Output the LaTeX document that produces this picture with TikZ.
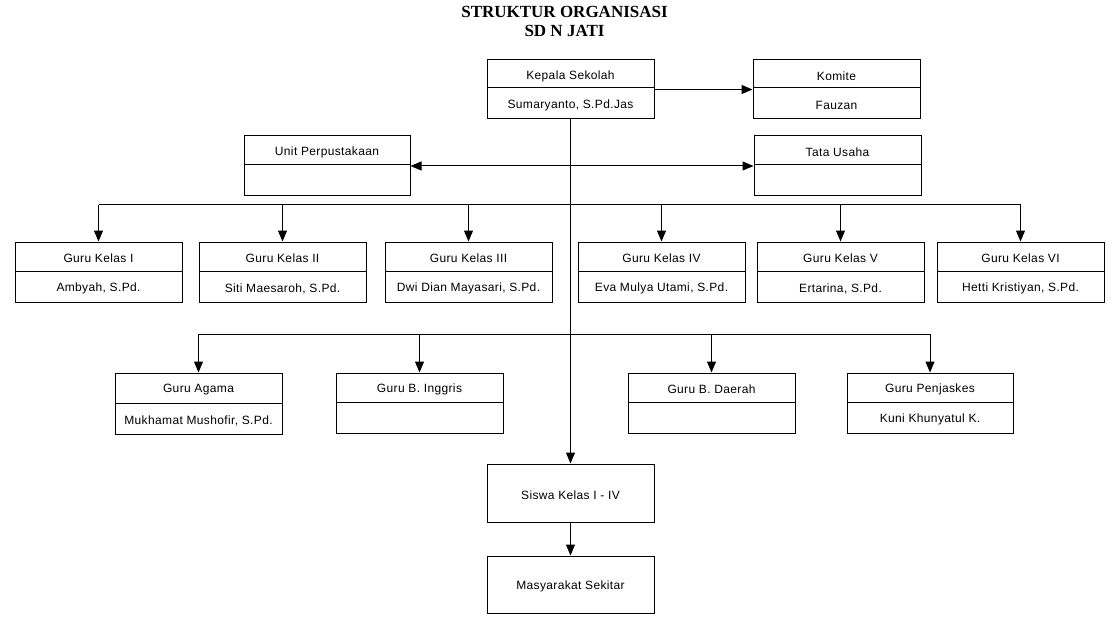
\documentclass[tikz,border=0pt]{standalone}
\usepackage{fontspec}
\setmainfont{Liberation Sans}[LetterSpace=3]
\newfontfamily\titlefont{Liberation Serif}
\usetikzlibrary{arrows.meta,fit}
\tikzset{
  box/.style={draw=black, line width=1pt, inner sep=0pt, fill=white},
  lbl/.style={inner sep=0pt, yshift=-2pt, font=\fontsize{12}{14}\selectfont, text=black},
  conn/.style={draw=black, line width=1pt},
  tip/.style={},
  arr/.style={conn, -{Triangle[length=11pt,width=9pt]}},
  arrboth/.style={conn, {Triangle[length=11pt,width=9pt]}-{Triangle[length=11pt,width=9pt]}},
}
% name, left, top, right, bottom, divider y, text1, text2
\newcommand\orgbox[8]{%
  \node[box, fit={(#2,#3)(#4,#5)}] (#1) {};
  \draw[line width=1pt] (#2,#6) -- (#4,#6);
  \node[lbl] (#1t) at ({(#2+#4)/2},{(#3+#6)/2}) {#7};
  \node[lbl] (#1b) at ({(#2+#4)/2},{(#6+#5)/2}) {#8};
}
\newcommand\plainbox[6]{%
  \node[box, fit={(#2,#3)(#4,#5)}] (#1) {};
  \node[lbl] (#1t) at (#1.center) {#6};
}
\begin{document}
\begin{tikzpicture}[x=1pt,y=-1pt]
\useasboundingbox[fill=white] (0,0) rectangle (1120,623);
\node[inner sep=0pt, font=\titlefont\bfseries\fontsize{17}{19}\selectfont, align=center] (title) at (564.5,21) {STRUKTUR ORGANISASI\\SD N JATI};

\orgbox{kep}{487}{60}{654}{119}{88}{Kepala Sekolah}{Sumaryanto, S.Pd.Jas}
\orgbox{kom}{753}{60}{920}{119}{88}{Komite}{Fauzan}
\orgbox{unit}{244}{136}{410}{196}{165}{Unit Perpustakaan}{}
\orgbox{tata}{754}{136}{921}{196}{165}{Tata Usaha}{}

\orgbox{g1}{15}{242}{182}{302}{271}{Guru Kelas I}{Ambyah, S.Pd.}
\orgbox{g2}{199}{242}{366}{302}{271}{Guru Kelas II}{Siti Maesaroh, S.Pd.}
\orgbox{g3}{385}{242}{552}{302}{271}{Guru Kelas III}{Dwi Dian Mayasari, S.Pd.}
\orgbox{g4}{578}{242}{745}{302}{271}{Guru Kelas IV}{Eva Mulya Utami, S.Pd.}
\orgbox{g5}{757}{242}{924}{302}{271}{Guru Kelas V}{Ertarina, S.Pd.}
\orgbox{g6}{937}{242}{1104}{302}{271}{Guru Kelas VI}{Hetti Kristiyan, S.Pd.}

\orgbox{ag}{115}{373}{282}{434}{403}{Guru Agama}{Mukhamat Mushofir, S.Pd.}
\orgbox{ing}{336}{373}{503}{433}{402}{Guru B. Inggris}{}
\orgbox{dae}{628}{373}{795}{433}{402}{Guru B. Daerah}{}
\orgbox{pj}{847}{373}{1013}{433}{402}{Guru Penjaskes}{Kuni Khunyatul K.}

\plainbox{sis}{487}{464}{654}{522}{Siswa Kelas I - IV}
\plainbox{mas}{487}{556}{654}{613}{Masyarakat Sekitar}

% connectors
\draw[arr] (kep) -- (kom);
\draw[arr] (kep.south) -- (sis.north);
\draw[arrboth] (unit.east) -- (tata.west);

\coordinate (bus1) at (570.5,205);
\draw[conn] (g1.north |- bus1) -- (g6.north |- bus1);
\foreach \g in {g1,g2,g3,g4,g5,g6} {\draw[arr] (\g.north |- bus1) -- (\g.north);}

\coordinate (bus2) at (570.5,334);
\draw[conn] (ag.north |- bus2) -- (pj.north |- bus2);
\foreach \g in {ag,ing,dae,pj} {\draw[arr] (\g.north |- bus2) -- (\g.north);}

\draw[arr] (sis) -- (mas);
\end{tikzpicture}
\end{document}
